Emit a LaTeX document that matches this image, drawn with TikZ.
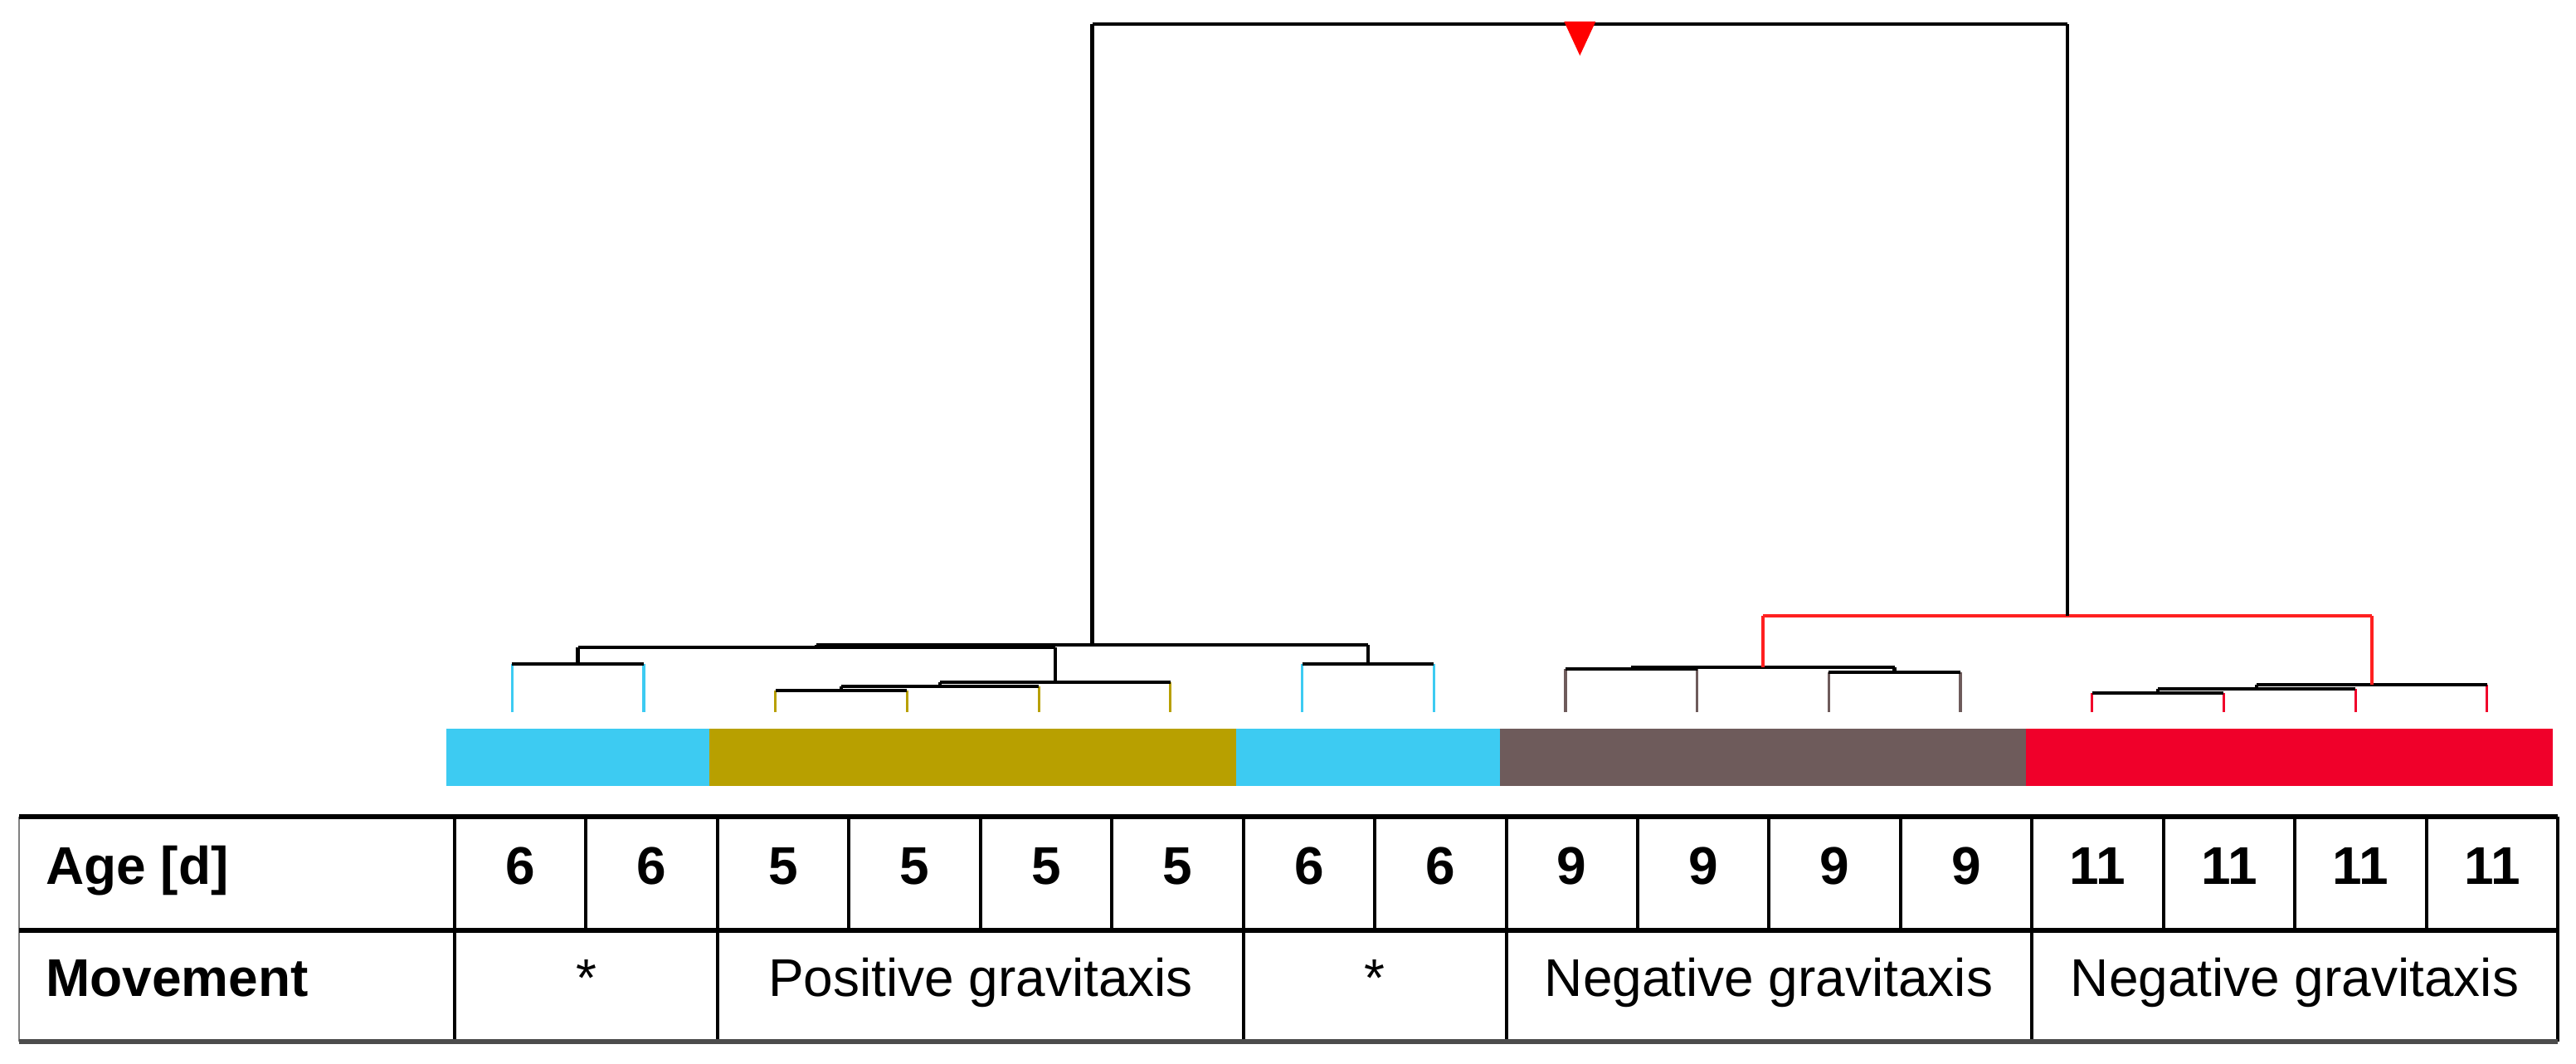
\documentclass[tikz,border=0pt]{standalone}
\usepackage{fontspec}
\setmainfont{Liberation Sans}
\usetikzlibrary{calc}
\definecolor{barcyan}{HTML}{3DCBF2}
\definecolor{barolive}{HTML}{B8A000}
\definecolor{barbrown}{HTML}{6E5B5B}
\definecolor{barred}{HTML}{F0002A}
\definecolor{linkred}{HTML}{FF2020}
% one merge of the tree: name, left, right, height, left colour, right colour, bar colour
\newcommand*\clade[7]{
  \path let \p1=($(#2)!0.5!(#3)$) in coordinate (#1) at (\x1,#4cm);
  \draw[#5] (#2) -- (#2 |- #1);
  \draw[#6] (#3) -- (#3 |- #1);
  \draw[#7] (#2 |- #1) -- (#3 |- #1);}

\begin{document}
\begin{tikzpicture}[line width=1.3pt,
  txt/.style={font=\fontsize{18.2}{22}\selectfont,inner sep=0pt},
  bold/.style={txt,font=\fontsize{18.2}{22}\selectfont\bfseries},
  rule/.style={line width=1.6pt},
  sep/.style={line width=0.9pt}]
\useasboundingbox (0,0) rectangle (31.05,-12.82);
% leaves
\foreach \i in {1,...,16}
  \coordinate (l\i) at ({5.38+1.587*(\i-0.5)},-8.58);
%tree
\clade{a}{l1}{l2}{-8.00}{barcyan,line width=0.9pt}{barcyan,line width=0.9pt}{black}
\clade{b1}{l3}{l4}{-8.32}{barolive,line width=0.9pt}{barolive,line width=0.9pt}{black}
\clade{b2}{b1}{l5}{-8.27}{black}{barolive,line width=0.9pt}{black}
\clade{b3}{b2}{l6}{-8.22}{black}{barolive,line width=0.9pt}{black}
\clade{c}{l7}{l8}{-8.00}{barcyan,line width=0.9pt}{barcyan,line width=0.9pt}{black}
\clade{ab}{a}{b3}{-7.80}{black}{black}{black}
\clade{abc}{ab}{c}{-7.77}{black}{black}{black}
%
\clade{d1}{l9}{l10}{-8.06}{barbrown,line width=0.9pt}{barbrown,line width=0.9pt}{black}
\clade{d2}{l11}{l12}{-8.10}{barbrown,line width=0.9pt}{barbrown,line width=0.9pt}{black}
\clade{d}{d1}{d2}{-8.04}{black}{black}{black}
\clade{e1}{l13}{l14}{-8.35}{barred,line width=0.9pt}{barred,line width=0.9pt}{black}
\clade{e2}{e1}{l15}{-8.30}{black}{barred,line width=0.9pt}{black}
\clade{e3}{e2}{l16}{-8.25}{black}{barred,line width=0.9pt}{black}
\clade{de}{d}{e3}{-7.42}{linkred}{linkred}{linkred}
%
\clade{root}{abc}{de}{-0.29}{black}{black}{black}
\fill[red] ($(root)+(-0.19,0.03)$) -- ($(root)+(0.19,0.03)$) -- ($(root)+(0,-0.38)$) -- cycle;
% colour bar
\fill[barcyan] (5.38,-8.78) rectangle (8.55,-9.47);
\fill[barolive] (8.55,-8.78) rectangle (14.90,-9.47);
\fill[barcyan] (14.90,-8.78) rectangle (18.08,-9.47);
\fill[barbrown] (18.08,-8.78) rectangle (24.42,-9.47);
\fill[barred] (24.42,-8.78) rectangle (30.77,-9.47);
% table
\draw[gray,line width=0.6pt] (0.23,-9.84) -- (0.23,-12.55);
\foreach \x in {5.48,7.06,8.65,10.23,11.82,13.40,14.99,16.57,18.16,19.74,21.32,22.91,24.49,26.08,27.66,29.25,30.83}
  \draw[sep] (\x,-9.84) -- (\x,-11.21);
\foreach \x in {5.48,8.65,14.99,18.16,24.49,30.83}
  \draw[sep] (\x,-11.21) -- (\x,-12.55);
\draw[rule] (0.23,-9.84) -- (30.83,-9.84);
\draw[rule] (0.23,-11.21) -- (30.83,-11.21);
\draw[rule,black!70] (0.23,-12.55) -- (30.83,-12.55);
%
\node[bold,anchor=base west] (age) at (0.53,-10.65) {Age [d]};
\foreach \v [count=\i] in {6,6,5,5,5,5,6,6,9,9,9,9,11,11,11,11}
  \node[bold,anchor=base] (n\i) at ({5.48+1.5844*(\i-0.5)},-10.65) {\v};
%
\node[bold,anchor=base west] (mov) at (0.53,-12.00) {Movement};
\node[txt,anchor=base] (m1) at (7.065,-12.00) {*};
\node[txt,anchor=base] (m2) at (11.82,-12.00) {Positive gravitaxis};
\node[txt,anchor=base] (m3) at (16.57,-12.00) {*};
\node[txt,anchor=base] (m4) at (21.32,-12.00) {Negative gravitaxis};
\node[txt,anchor=base] (m5) at (27.66,-12.00) {Negative gravitaxis};
\end{tikzpicture}
\end{document}
